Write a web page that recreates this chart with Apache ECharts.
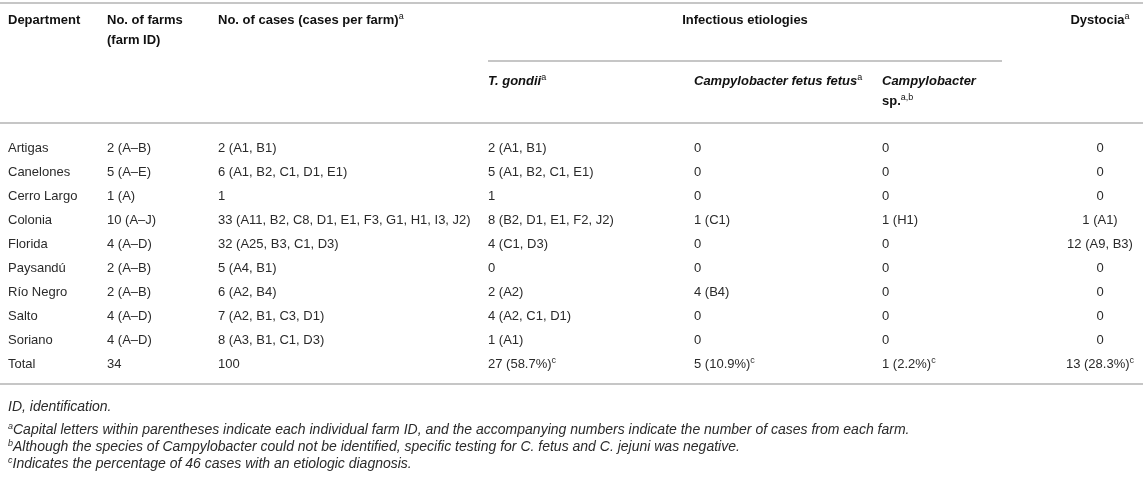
<!DOCTYPE html>
<html>
<head>
<meta charset="utf-8">
<script src="https://cdn.jsdelivr.net/npm/echarts@6/dist/echarts.min.js"></script>
<style>
    html, body { margin: 0; background: #fff; }
    #main { width: 1143px; height: 492px; }
</style>
</head>
<body>
<div id="main"></div>
<script>
// table content
const departments = ['Artigas', 'Canelones', 'Cerro Largo', 'Colonia', 'Florida', 'Paysandú', 'Río Negro', 'Salto', 'Soriano', 'Total'];
const farms = ['2 (A–B)', '5 (A–E)', '1 (A)', '10 (A–J)', '4 (A–D)', '2 (A–B)', '2 (A–B)', '4 (A–D)', '4 (A–D)', '34'];
const cases = ['2 (A1, B1)', '6 (A1, B2, C1, D1, E1)', '1', '33 (A11, B2, C8, D1, E1, F3, G1, H1, I3, J2)', '32 (A25, B3, C1, D3)',
    '5 (A4, B1)', '6 (A2, B4)', '7 (A2, B1, C3, D1)', '8 (A3, B1, C1, D3)', '100'];
const tGondii = ['2 (A1, B1)', '5 (A1, B2, C1, E1)', '1', '8 (B2, D1, E1, F2, J2)', '4 (C1, D3)', '0', '2 (A2)', '4 (A2, C1, D1)', '1 (A1)', '27 (58.7%)'];
const campyFetus = ['0', '0', '0', '1 (C1)', '0', '0', '4 (B4)', '0', '0', '5 (10.9%)'];
const campySp = ['0', '0', '0', '1 (H1)', '0', '0', '0', '0', '0', '1 (2.2%)'];
const dystocia = ['0', '0', '0', '1 (A1)', '12 (A9, B3)', '0', '0', '0', '0', '13 (28.3%)'];
const totalNotes = ['', '', '', 'c', 'c', 'c', 'c'];

const footnotes = [
    ['', 'ID, identification.'],
    ['a', 'Capital letters within parentheses indicate each individual farm ID, and the accompanying numbers indicate the number of cases from each farm.'],
    ['b', 'Although the species of Campylobacter could not be identified, specific testing for C. fetus and C. jejuni was negative.'],
    ['c', 'Indicates the percentage of 46 cases with an etiologic diagnosis.']
];

const columns = [departments, farms, cases, tGondii, campyFetus, campySp, dystocia];

// layout
const colX = [8, 107, 218, 488, 694, 882, 1100];
const colAlign = ['left', 'left', 'left', 'left', 'left', 'left', 'center'];
const footY = [407, 430, 447, 464];
const FONT = '"Liberation Sans", Arial, Helvetica, sans-serif';
const textColor = '#2a2a2a';
const ruleColor = '#b3b3b3';

let chart = echarts.init(document.getElementById('main'), null, { renderer: 'canvas' });

let cells = [];
columns.forEach((col, c) => {
    col.forEach((v, r) => cells.push([c, r]));
});

const supRich = {
    sup: { fontSize: 9, fontFamily: FONT, verticalAlign: 'top', lineHeight: 16, fill: textColor },
    b: { fontSize: 13, fontWeight: 'bold', fontFamily: FONT, lineHeight: 16, fill: '#111' },
    bi: { fontSize: 13, fontWeight: 'bold', fontStyle: 'italic', fontFamily: FONT, lineHeight: 16, fill: '#111' },
    supb: { fontSize: 9, fontFamily: FONT, verticalAlign: 'top', lineHeight: 16, fill: '#111' }
};

function headerText(x, y, text, align) {
    return {
        type: 'text',
        x: x, y: y,
        style: {
            text: text,
            rich: supRich,
            align: align || 'left',
            verticalAlign: 'middle',
            font: 'bold 13px ' + FONT,
            fill: '#111'
        }
    };
}

function rule(x1, x2, y) {
    return {
        type: 'line',
        shape: { x1: x1, y1: y, x2: x2, y2: y },
        style: { stroke: ruleColor, lineWidth: 1.5 }
    };
}

let graphics = [
    rule(0, 1143, 3),
    rule(488, 1002, 61),
    rule(0, 1143, 123),
    rule(0, 1143, 384),
    headerText(8, 20, '{b|Department}'),
    headerText(107, 20, '{b|No. of farms}'),
    headerText(107, 40, '{b|(farm ID)}'),
    headerText(218, 20, '{b|No. of cases (cases per farm)}{supb|a}'),
    headerText(745, 20, '{b|Infectious etiologies}', 'center'),
    headerText(1100, 20, '{b|Dystocia}{supb|a}', 'center'),
    headerText(488, 81, '{bi|T. gondii}{supb|a}'),
    headerText(694, 81, '{bi|Campylobacter fetus fetus}{supb|a}'),
    headerText(882, 81, '{bi|Campylobacter}'),
    headerText(882, 101, '{b|sp.}{supb|a,b}')
];

footnotes.forEach((f, i) => {
    graphics.push({
        type: 'text',
        x: 8, y: footY[i],
        style: {
            text: (f[0] ? '{s|' + f[0] + '}' : '') + '{t|' + f[1] + '}',
            rich: {
                s: { fontSize: 9, fontStyle: 'italic', fontFamily: FONT, verticalAlign: 'top', lineHeight: 16, fill: textColor },
                t: { fontSize: 14, fontStyle: 'italic', fontFamily: FONT, lineHeight: 16, fill: textColor }
            },
            verticalAlign: 'middle'
        }
    });
});

option = {
    backgroundColor: '#fff',
    animation: false,
    grid: { left: 0, right: 0, top: 136, height: 240 },
    xAxis: { type: 'value', min: 0, max: 6, show: false },
    yAxis: { type: 'category', data: departments, inverse: true, show: false },
    graphic: graphics,
    series: [{
        type: 'custom',
        data: cells,
        renderItem(params, api) {
            let c = api.value(0);
            let r = api.value(1);
            let y = api.coord([0, r])[1];
            let txt = '{n|' + columns[c][r] + '}';
            if (r === departments.length - 1 && totalNotes[c]) {
                txt += '{sup|' + totalNotes[c] + '}';
            }
            return {
                type: 'text',
                x: colX[c],
                y: y,
                style: {
                    text: txt,
                    rich: {
                        n: { fontSize: 13, fontFamily: FONT, lineHeight: 16, fill: textColor },
                        sup: supRich.sup
                    },
                    align: colAlign[c],
                    verticalAlign: 'middle'
                }
            };
        }
    }]
};

chart.setOption(option);
window.addEventListener('resize', function () {
    chart.resize();
});
</script>
</body>
</html>
